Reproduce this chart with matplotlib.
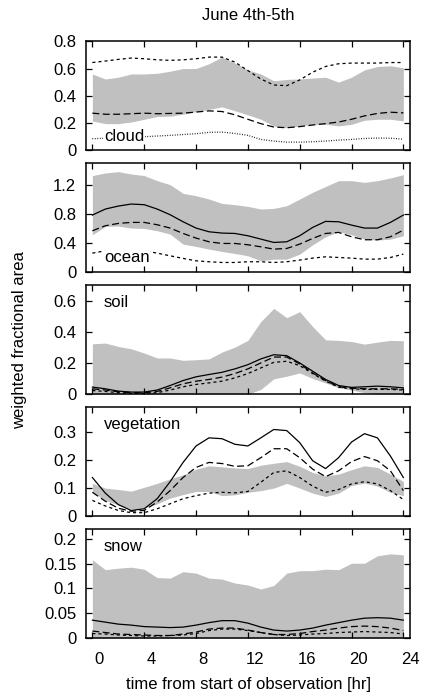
import matplotlib
matplotlib.use("Agg")
import matplotlib.pyplot as plt
import matplotlib.transforms as mtransforms

plt.rcParams["font.family"] = ["Liberation Sans", "DejaVu Sans"]
plt.rcParams["font.size"] = 12
plt.rcParams["lines.scale_dashes"] = False

hours = list(range(25))

# cloud
cloud_lo = [0.215, 0.195, 0.195, 0.207, 0.227, 0.247, 0.25, 0.264, 0.284, 0.30, 0.318, 0.29, 0.26,
            0.227, 0.178, 0.165, 0.178, 0.19, 0.19, 0.178, 0.19, 0.22, 0.227, 0.227, 0.215]
cloud_hi = [0.56, 0.523, 0.536, 0.56, 0.56, 0.565, 0.58, 0.60, 0.60, 0.635, 0.684, 0.64, 0.59,
            0.56, 0.51, 0.52, 0.523, 0.53, 0.536, 0.50, 0.536, 0.59, 0.615, 0.62, 0.605]
cloud_short = [0.644, 0.655, 0.667, 0.677, 0.672, 0.664, 0.66, 0.664, 0.672, 0.684, 0.684, 0.647, 0.585,
               0.523, 0.479, 0.474, 0.516, 0.573, 0.615, 0.635, 0.64, 0.64, 0.64, 0.644, 0.644]
cloud_dash = [0.272, 0.264, 0.264, 0.268, 0.272, 0.268, 0.27, 0.272, 0.28, 0.289, 0.284, 0.26, 0.227,
              0.195, 0.17, 0.165, 0.173, 0.185, 0.195, 0.207, 0.227, 0.252, 0.27, 0.279, 0.274]
cloud_dot = [0.084, 0.088, 0.091, 0.095, 0.099, 0.104, 0.109, 0.115, 0.121, 0.131, 0.133, 0.123, 0.109,
             0.079, 0.067, 0.059, 0.059, 0.062, 0.067, 0.074, 0.079, 0.086, 0.089, 0.088, 0.081]

# ocean
ocean_lo = [0.515, 0.63, 0.635, 0.607, 0.602, 0.57, 0.524, 0.386, 0.354, 0.317, 0.285, 0.257, 0.225,
            0.156, 0.179, 0.179, 0.248, 0.377, 0.487, 0.556, 0.515, 0.455, 0.441, 0.455, 0.501]
ocean_hi = [1.33, 1.366, 1.384, 1.352, 1.33, 1.26, 1.205, 1.085, 1.053, 1.007, 0.947, 0.929, 0.906,
            0.869, 0.878, 0.915, 1.007, 1.10, 1.18, 1.26, 1.26, 1.237, 1.26, 1.297, 1.343]
ocean_solid = [0.786, 0.869, 0.91, 0.938, 0.929, 0.869, 0.791, 0.694, 0.607, 0.556, 0.538, 0.533, 0.501,
               0.455, 0.409, 0.418, 0.501, 0.616, 0.699, 0.694, 0.648, 0.607, 0.607, 0.685, 0.786]
ocean_dash = [0.57, 0.639, 0.671, 0.685, 0.685, 0.653, 0.607, 0.533, 0.469, 0.418, 0.395, 0.395, 0.377,
              0.349, 0.317, 0.326, 0.386, 0.464, 0.533, 0.547, 0.487, 0.446, 0.446, 0.487, 0.579]
ocean_short = [0.262, 0.294, 0.303, 0.303, 0.294, 0.262, 0.225, 0.189, 0.156, 0.143, 0.133, 0.133, 0.143,
               0.143, 0.133, 0.143, 0.166, 0.193, 0.211, 0.202, 0.193, 0.179, 0.179, 0.202, 0.248]

# soil
soil_lo = [0, 0, 0, 0, 0, 0, 0, 0, 0, 0, 0, 0, 0,
           0.03, 0.098, 0.115, 0.136, 0.1, 0.072, 0.04, 0.026, 0.009, 0, 0, 0]
soil_hi = [0.323, 0.328, 0.306, 0.291, 0.264, 0.232, 0.232, 0.217, 0.221, 0.226, 0.27, 0.302, 0.345,
           0.466, 0.551, 0.491, 0.53, 0.434, 0.349, 0.345, 0.338, 0.321, 0.334, 0.345, 0.343]
soil_solid = [0.045, 0.034, 0.019, 0.013, 0.013, 0.026, 0.055, 0.087, 0.111, 0.126, 0.14, 0.162, 0.189,
              0.226, 0.253, 0.247, 0.2, 0.147, 0.094, 0.055, 0.043, 0.047, 0.051, 0.047, 0.04]
soil_dash = [0.034, 0.026, 0.015, 0.009, 0.009, 0.017, 0.04, 0.066, 0.083, 0.094, 0.109, 0.132, 0.162,
             0.2, 0.238, 0.238, 0.194, 0.136, 0.087, 0.047, 0.038, 0.034, 0.034, 0.034, 0.03]
soil_short = [0.023, 0.017, 0.009, 0.004, 0.004, 0.009, 0.026, 0.047, 0.062, 0.072, 0.083, 0.104, 0.132,
              0.168, 0.204, 0.211, 0.183, 0.132, 0.083, 0.045, 0.034, 0.03, 0.03, 0.03, 0.026]

# vegetation
veg_lo = [0.085, 0.056, 0.04, 0.026, 0.028, 0.044, 0.064, 0.077, 0.088, 0.088, 0.073, 0.076, 0.085,
          0.091, 0.1, 0.117, 0.1, 0.082, 0.07, 0.082, 0.109, 0.118, 0.107, 0.085, 0.073]
veg_hi = [0.117, 0.1, 0.095, 0.089, 0.103, 0.117, 0.133, 0.148, 0.168, 0.18, 0.176, 0.172, 0.17,
          0.182, 0.189, 0.195, 0.178, 0.156, 0.144, 0.15, 0.166, 0.18, 0.174, 0.15, 0.124]
veg_solid = [0.138, 0.082, 0.041, 0.02, 0.026, 0.062, 0.123, 0.192, 0.251, 0.28, 0.277, 0.257, 0.251,
             0.28, 0.31, 0.306, 0.263, 0.198, 0.17, 0.209, 0.265, 0.295, 0.28, 0.215, 0.138]
veg_dash = [0.085, 0.053, 0.028, 0.017, 0.02, 0.05, 0.091, 0.138, 0.174, 0.192, 0.188, 0.178, 0.18,
            0.209, 0.241, 0.241, 0.209, 0.168, 0.141, 0.162, 0.195, 0.213, 0.198, 0.162, 0.091]
veg_short = [0.056, 0.036, 0.02, 0.012, 0.012, 0.026, 0.044, 0.062, 0.073, 0.082, 0.085, 0.083, 0.088,
             0.121, 0.156, 0.162, 0.138, 0.107, 0.085, 0.095, 0.115, 0.123, 0.115, 0.091, 0.059]

# snow
snow_lo = [0, 0, 0, 0, 0, 0, 0, 0, 0, 0, 0, 0, 0, 0, 0, 0, 0, 0, 0, 0, 0, 0, 0, 0, 0]
snow_hi = [0.158, 0.138, 0.141, 0.143, 0.139, 0.122, 0.121, 0.134, 0.131, 0.121, 0.119, 0.111, 0.107,
           0.099, 0.106, 0.131, 0.136, 0.136, 0.139, 0.138, 0.151, 0.151, 0.166, 0.17, 0.168]
snow_solid = [0.036, 0.032, 0.028, 0.026, 0.023, 0.022, 0.021, 0.022, 0.026, 0.031, 0.035, 0.035, 0.03,
              0.022, 0.016, 0.014, 0.016, 0.02, 0.026, 0.031, 0.036, 0.04, 0.041, 0.04, 0.036]
snow_dash = [0.014, 0.011, 0.008, 0.007, 0.006, 0.005, 0.005, 0.008, 0.012, 0.018, 0.02, 0.02, 0.016,
             0.011, 0.007, 0.007, 0.009, 0.013, 0.016, 0.02, 0.023, 0.024, 0.023, 0.02, 0.015]
snow_short = [0.009, 0.008, 0.006, 0.005, 0.004, 0.004, 0.005, 0.006, 0.009, 0.015, 0.018, 0.018, 0.015,
              0.011, 0.007, 0.005, 0.006, 0.008, 0.009, 0.011, 0.012, 0.013, 0.012, 0.011, 0.008]

x_ticks = [0, 4, 8, 12, 16, 20, 24]

# name, band, lines (style key -> values), ylim, yticks, label y, white label box
panels = [
    ("cloud", cloud_lo, cloud_hi, {"short": cloud_short, "dash": cloud_dash, "dot": cloud_dot},
     0.8, [0, 0.2, 0.4, 0.6, 0.8], ["0", "0.2", "0.4", "0.6", "0.8"], 0.104, True),
    ("ocean", ocean_lo, ocean_hi, {"solid": ocean_solid, "dash": ocean_dash, "short": ocean_short},
     1.5, [0, 0.4, 0.8, 1.2], ["0", "0.4", "0.8", "1.2"], 0.2, True),
    ("soil", soil_lo, soil_hi, {"solid": soil_solid, "dash": soil_dash, "short": soil_short},
     0.7, [0, 0.2, 0.4, 0.6], ["0", "0.2", "0.4", "0.6"], 0.587, False),
    ("vegetation", veg_lo, veg_hi, {"solid": veg_solid, "dash": veg_dash, "short": veg_short},
     0.39, [0, 0.1, 0.2, 0.3], ["0", "0.1", "0.2", "0.3"], 0.328, False),
    ("snow", snow_lo, snow_hi, {"solid": snow_solid, "dash": snow_dash, "short": snow_short},
     0.22, [0, 0.05, 0.1, 0.15, 0.2], ["0", "0.05", "0.1", "0.15", "0.2"], 0.185, False),
]

styles = {
    "solid": dict(linestyle="-"),
    "dash": dict(dashes=(5, 2.5)),
    "short": dict(dashes=(2.2, 2.2)),
    "dot": dict(dashes=(0.6, 1.2)),
}

fig, axes = plt.subplots(5, 1, figsize=(4.36, 7.0), dpi=100, sharex=True)
fig.subplots_adjust(left=0.197, right=0.940, top=0.941, bottom=0.0886, hspace=0.12)

for ax, (name, lo, hi, lines, ytop, yt, ytl, label_y, boxed) in zip(axes, panels):
    ax.fill_between(hours, lo, hi, color="#c0c0c0", linewidth=0, zorder=1)
    for key, vals in lines.items():
        ax.plot(hours, vals, color="black", linewidth=0.9, zorder=3, **styles[key])
    ax.set_xlim(-0.5, 24.5)
    ax.set_ylim(0, ytop)
    ax.set_yticks(yt)
    ax.set_yticklabels(ytl)
    ax.set_xticks(x_ticks)
    ax.tick_params(direction="in", length=4, width=0.9, top=True, right=True,
                   labelsize=12, pad=7)
    for s in ax.spines.values():
        s.set_linewidth(1.1)
    bbox = dict(facecolor="white", edgecolor="none", pad=0.5) if boxed else None
    ax.text(0.056, label_y, name, transform=ax.get_yaxis_transform(),
            fontsize=12, va="center", ha="left", bbox=bbox, zorder=4)

axes[-1].set_xticklabels([str(t) for t in x_ticks])
axes[-1].tick_params(axis="x", pad=10)
shift = mtransforms.ScaledTranslation(5 / 72, 0, fig.dpi_scale_trans)
for lab in axes[-1].get_xticklabels():
    lab.set_transform(lab.get_transform() + shift)

fig.text(248 / 436, 1 - 15 / 700, "June 4th-5th", ha="center", va="center", fontsize=12)
fig.text(248 / 436, 1 - 685 / 700, "time from start of observation [hr]",
         ha="center", va="center", fontsize=12)
fig.text(20 / 436, 1 - 340 / 700, "weighted fractional area", rotation=90,
         ha="center", va="center", fontsize=12)

fig.savefig("out.png", dpi=100)
plt.close(fig)
